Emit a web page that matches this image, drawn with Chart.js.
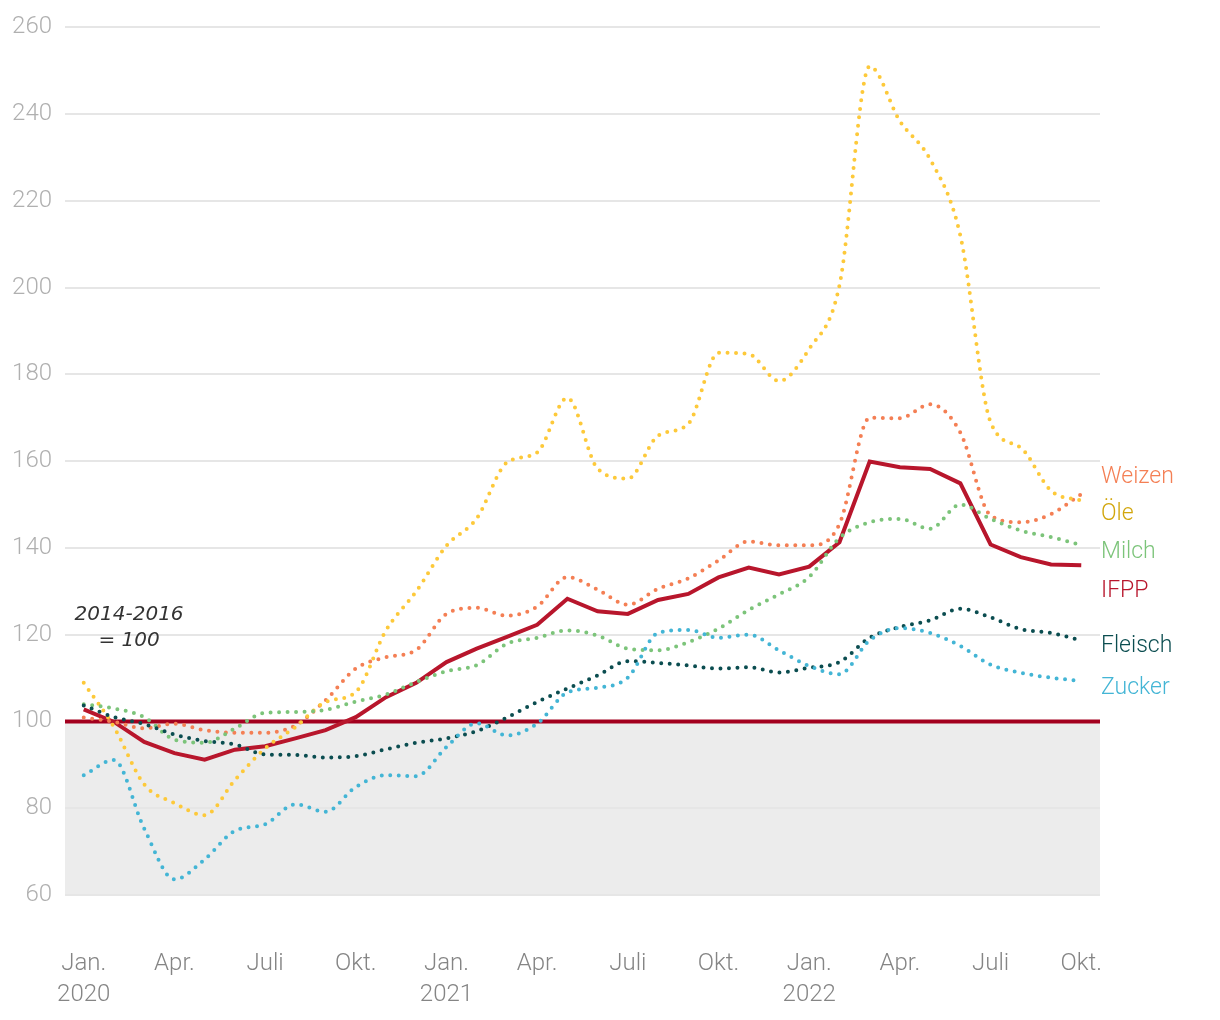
<!DOCTYPE html>
<html>
<head>
<meta charset="utf-8">
<script src="https://cdn.jsdelivr.net/npm/chart.js@4/dist/chart.umd.min.js"></script>
<style>
  html, body { margin: 0; padding: 0; background: #fff; }
  #wrap { width: 1220px; height: 1020px; }
</style>
</head>
<body>
<div id="wrap"><canvas id="myChart" width="1220" height="1020"></canvas></div>
<script>
// monthly index values, Jan. 2020 - Okt. 2022 (2014-2016 = 100)
var monthNames = ['Jan.', 'Apr.', 'Juli', 'Okt.'];
var years = ['2020', '2021', '2022'];
var yTicks = [60, 80, 100, 120, 140, 160, 180, 200, 220, 240, 260];

var ifpp    = [102.8, 99.9, 95.3, 92.7, 91.2, 93.5, 94.3, 96.1, 98.0, 101.0, 105.6, 108.9, 113.7, 116.8, 119.5, 122.3, 128.3, 125.4, 124.8, 128.0, 129.4, 133.2, 135.5, 133.9, 135.7, 141.3, 159.9, 158.6, 158.2, 154.9, 140.8, 137.9, 136.2, 136.0];
var weizen  = [100.9, 99.9, 98.4, 99.5, 98.0, 97.4, 97.4, 99.1, 104.9, 112.2, 114.8, 116.5, 124.8, 126.2, 124.4, 126.5, 133.3, 130.4, 126.9, 130.6, 133.0, 137.1, 141.5, 140.6, 140.6, 145.5, 170.0, 169.9, 173.1, 166.6, 147.5, 145.9, 147.8, 152.4];
var oele    = [108.9, 98.7, 85.5, 81.2, 78.4, 86.5, 93.8, 98.7, 104.5, 106.8, 121.0, 130.0, 140.5, 146.8, 159.7, 162.0, 174.6, 158.3, 156.0, 165.9, 168.6, 185.0, 184.7, 178.5, 185.9, 200.5, 251.0, 238.4, 229.6, 212.0, 169.0, 163.1, 153.2, 150.9];
var milch   = [104.0, 103.0, 101.0, 95.8, 95.1, 98.4, 102.0, 102.2, 102.7, 104.6, 106.2, 109.1, 111.6, 113.0, 117.9, 119.3, 121.0, 119.8, 116.8, 116.4, 118.3, 121.4, 125.7, 129.3, 133.3, 142.3, 145.9, 146.7, 144.4, 150.0, 146.7, 144.0, 142.5, 140.7];
var fleisch = [103.7, 101.0, 99.4, 97.0, 95.5, 94.7, 92.4, 92.3, 91.7, 92.0, 93.6, 95.1, 96.1, 97.8, 100.9, 104.5, 107.6, 110.6, 113.9, 113.5, 112.9, 112.2, 112.5, 111.3, 112.4, 113.7, 119.3, 121.8, 123.3, 126.0, 124.0, 121.3, 120.4, 118.7];
var zucker  = [87.6, 91.1, 75.3, 63.6, 68.2, 74.8, 76.3, 80.9, 79.2, 84.9, 87.6, 87.4, 94.1, 99.6, 96.8, 99.5, 106.7, 107.8, 110.1, 120.4, 121.1, 119.3, 120.0, 116.4, 112.8, 110.9, 118.7, 121.5, 120.4, 117.4, 113.1, 111.2, 110.1, 109.3];

var FONT = 'Roboto, "Liberation Sans", sans-serif';

function pts(arr) {
  return arr.map(function (v, i) { return { x: i, y: v }; });
}

function dotted(label, arr, color) {
  return {
    label: label,
    data: pts(arr),
    borderColor: color,
    borderWidth: 4,
    borderDash: [0, 8.5],
    borderCapStyle: 'round',
    cubicInterpolationMode: 'monotone',
    pointRadius: 0,
    fill: false
  };
}

// grey band below 100 and the red base line
var basePlugin = {
  id: 'base',
  beforeDraw: function (chart) {
    var a = chart.chartArea, y = chart.scales.y, ctx = chart.ctx;
    var y100 = y.getPixelForValue(100), y60 = y.getPixelForValue(60);
    ctx.save();
    ctx.fillStyle = '#ececec';
    ctx.fillRect(a.left, y100, a.right - a.left, y60 - y100);
    ctx.restore();
  },
  beforeDatasetsDraw: function (chart) {
    var a = chart.chartArea, ctx = chart.ctx;
    var y100 = chart.scales.y.getPixelForValue(100);
    ctx.save();
    ctx.strokeStyle = '#a3001e';
    ctx.lineWidth = 4;
    ctx.beginPath();
    ctx.moveTo(a.left, y100);
    ctx.lineTo(a.right, y100);
    ctx.stroke();
    ctx.restore();
  }
};

// series names at the right edge + note
var labelPlugin = {
  id: 'labels',
  afterDatasetsDraw: function (chart) {
    var a = chart.chartArea, ys = chart.scales.y, xs = chart.scales.x, ctx = chart.ctx;
    var items = [
      ['Weizen', '#f47f54', 156.4],
      ['Öle', '#d2a60c', 147.7],
      ['Milch', '#7cc47a', 138.9],
      ['IFPP', '#b8162c', 130.0],
      ['Fleisch', '#0b4d50', 117.3],
      ['Zucker', '#43b5d5', 107.6]
    ];
    ctx.save();
    ctx.font = '300 23px ' + FONT;
    ctx.textBaseline = 'middle';
    ctx.textAlign = 'left';
    items.forEach(function (it) {
      ctx.fillStyle = it[1];
      ctx.fillText(it[0], a.right + 1, ys.getPixelForValue(it[2]));
    });
    ctx.font = 'italic 20px "DejaVu Sans", sans-serif';
    ctx.fillStyle = '#333';
    ctx.textAlign = 'center';
    var cx = xs.getPixelForValue(1.5);
    ctx.fillText('2014-2016', cx, ys.getPixelForValue(124.6));
    ctx.fillText('= 100', cx, ys.getPixelForValue(118.7));
    ctx.restore();
  }
};

var ctx = document.getElementById('myChart');
var myChart = new Chart(ctx, {
  type: 'line',
  data: {
    datasets: [
      dotted('Zucker', zucker, '#43b5d5'),
      dotted('Fleisch', fleisch, '#0b4d50'),
      dotted('Milch', milch, '#7cc47a'),
      dotted('Öle', oele, '#fdc93a'),
      dotted('Weizen', weizen, '#f47f54'),
      {
        label: 'IFPP',
        data: pts(ifpp),
        borderColor: '#b8162c',
        borderWidth: 4,
        tension: 0,
        pointRadius: 0,
        fill: false
      }
    ]
  },
  options: {
    responsive: false,
    animation: false,
    layout: { padding: { left: 11, right: 120, top: 18, bottom: 8 } },
    plugins: {
      legend: { display: false },
      tooltip: { enabled: false }
    },
    scales: {
      x: {
        type: 'linear',
        min: -0.62,
        max: 33.62,
        grid: { display: false },
        border: { display: false },
        afterBuildTicks: function (scale) {
          var t = [];
          for (var i = 0; i <= 33; i += 3) t.push({ value: i });
          scale.ticks = t;
        },
        afterFit: function (scale) {
          scale.height = 117;
        },
        ticks: {
          autoSkip: false,
          maxRotation: 0,
          padding: 45,
          color: '#858585',
          font: { family: FONT, size: 24, weight: '300', lineHeight: 1.3 },
          callback: function (v) {
            var m = monthNames[(v / 3) % 4];
            if (v % 12 === 0) return [m, years[v / 12]];
            return m;
          }
        }
      },
      y: {
        min: 60,
        max: 260,
        afterBuildTicks: function (scale) {
          scale.ticks = yTicks.map(function (v) { return { value: v }; });
        },
        afterFit: function (scale) {
          scale.width = 54;
        },
        grid: { color: '#e6e6e6', lineWidth: 2, drawTicks: false },
        border: { display: false },
        ticks: {
          padding: 13,
          color: '#b0b0b0',
          font: { family: FONT, size: 24, weight: '300' }
        }
      }
    }
  },
  plugins: [basePlugin, labelPlugin]
});
</script>
</body>
</html>
